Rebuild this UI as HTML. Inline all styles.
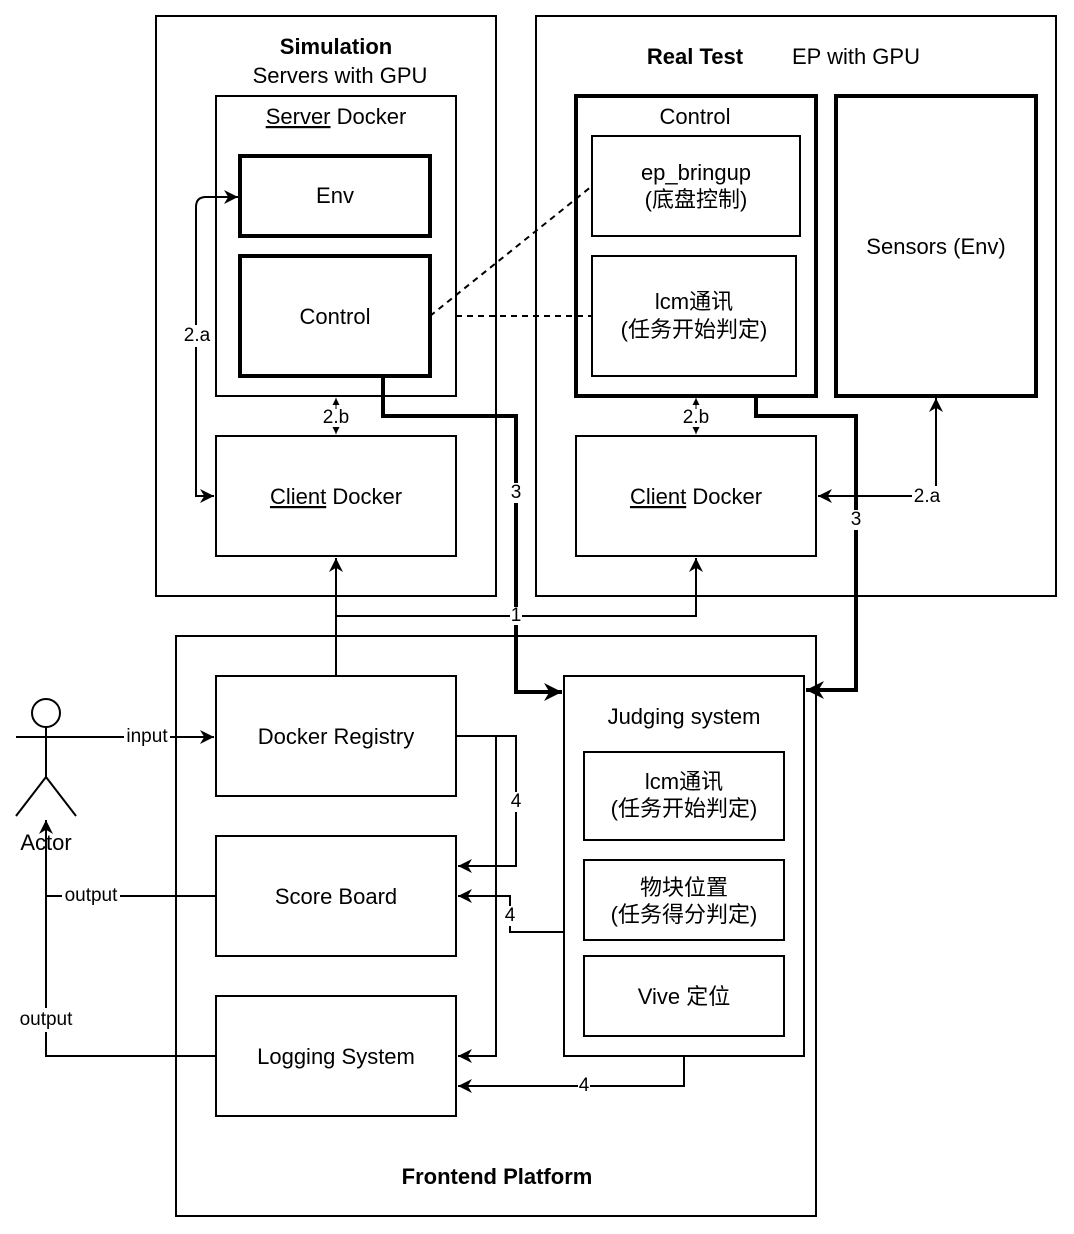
<!DOCTYPE html>
<html><head><style>html,body{margin:0;padding:0;background:#fff}svg{display:block}
text{font-family:"Liberation Sans","Noto Sans CJK SC",sans-serif;font-size:22px;fill:#000;text-anchor:middle;dominant-baseline:middle}
.b{font-weight:bold}.lbl{font-size:19px}</style></head><body>
<svg width="1074" height="1234" viewBox="0 0 1074 1234" xmlns="http://www.w3.org/2000/svg">
<defs>
<marker id="a" viewBox="0 0 10 10" refX="10" refY="5" markerWidth="16" markerHeight="14" markerUnits="userSpaceOnUse" orient="auto"><path d="M0,0 L10,5 L0,10 L3,5z" fill="#000"/></marker>
<marker id="ab" viewBox="0 0 10 10" refX="10" refY="5" markerWidth="20" markerHeight="18" markerUnits="userSpaceOnUse" orient="auto"><path d="M0,0 L10,5 L0,10 L3,5z" fill="#000"/></marker>
<marker id="as" viewBox="0 0 10 10" refX="10" refY="5" markerWidth="7" markerHeight="7" markerUnits="userSpaceOnUse" orient="auto"><path d="M0,0 L10,5 L0,10z" fill="#000"/></marker>
</defs>
<g fill="#fff" stroke="#000" stroke-width="2">
<rect x="156" y="16" width="340" height="580"/>
<rect x="536" y="16" width="520" height="580"/>
<rect x="176" y="636" width="640" height="580"/>
<rect x="216" y="96" width="240" height="300"/>
<rect x="216" y="436" width="240" height="120"/>
<rect x="576" y="436" width="240" height="120"/>
<rect x="216" y="676" width="240" height="120"/>
<rect x="216" y="836" width="240" height="120"/>
<rect x="216" y="996" width="240" height="120"/>
<rect x="564" y="676" width="240" height="380"/>
<rect x="584" y="752" width="200" height="88"/>
<rect x="584" y="860" width="200" height="80"/>
<rect x="584" y="956" width="200" height="80"/>
</g>
<g fill="#fff" stroke="#000" stroke-width="4">
<rect x="240" y="156" width="190" height="80"/>
<rect x="240" y="256" width="190" height="120"/>
<rect x="576" y="96" width="240" height="300"/>
<rect x="836" y="96" width="200" height="300"/>
</g>
<g fill="#fff" stroke="#000" stroke-width="2">
<rect x="592" y="136" width="208" height="100"/>
<rect x="592" y="256" width="204" height="120"/>
</g>
<g fill="none" stroke="#000" stroke-width="2">
<path d="M430,316 L592,186" stroke-dasharray="6,5"/>
<path d="M456,316 L592,316" stroke-dasharray="6,5"/>
<path d="M204,496 L196,496 L196,207 Q196,197 206,197 L238,197" marker-end="url(#a)"/>
<path d="M196,480 L196,496 L214,496" marker-end="url(#a)"/>
<path d="M336,416 L336,398" stroke-width="1" marker-end="url(#as)"/>
<path d="M336,416 L336,434" stroke-width="1" marker-end="url(#as)"/>
<path d="M696,416 L696,398" stroke-width="1" marker-end="url(#as)"/>
<path d="M696,416 L696,434" stroke-width="1" marker-end="url(#as)"/>
<path d="M936,496 L818,496" marker-end="url(#a)"/>
<path d="M936,496 L936,398" marker-end="url(#a)"/>
<path d="M383,376 L383,416 L516,416 L516,692 L562,692" stroke-width="4" marker-end="url(#ab)"/>
<path d="M756,396 L756,416 L856,416 L856,690 L806,690" stroke-width="4" marker-end="url(#ab)"/>
<path d="M336,676 L336,558" marker-end="url(#a)"/>
<path d="M336,616 L696,616 L696,558" marker-end="url(#a)"/>
<path d="M76,737 L214,737" marker-end="url(#a)"/>
<path d="M216,896 L46,896"/>
<path d="M216,1056 L46,1056 L46,820" marker-end="url(#a)"/>
<path d="M456,736 L516,736 L516,866 L458,866" marker-end="url(#a)"/>
<path d="M496,736 L496,1056 L458,1056" marker-end="url(#a)"/>
<path d="M564,932 L510,932 L510,896 L458,896" marker-end="url(#a)"/>
<path d="M684,1056 L684,1086 L458,1086" marker-end="url(#a)"/>
<circle cx="46" cy="713" r="14" fill="#fff"/>
<path d="M46,727 L46,777 M16,737 L76,737 M46,777 L16,816 M46,777 L76,816"/>
</g>
<g>
<text x="336" y="48" class="b">Simulation</text>
<text x="340" y="77">Servers with GPU</text>
<text x="336" y="118"><tspan text-decoration="underline">Server</tspan> Docker</text>
<text x="335" y="197">Env</text>
<text x="335" y="318">Control</text>
<text x="336" y="498"><tspan text-decoration="underline">Client</tspan> Docker</text>
<text x="695" y="58" class="b">Real Test</text>
<text x="856" y="58">EP with GPU</text>
<text x="695" y="118">Control</text>
<text x="696" y="174">ep_bringup</text>
<text x="696" y="201">(底盘控制)</text>
<text x="694" y="303">lcm通讯</text>
<text x="694" y="331">(任务开始判定)</text>
<text x="936" y="248">Sensors (Env)</text>
<text x="696" y="498"><tspan text-decoration="underline">Client</tspan> Docker</text>
<text x="336" y="738">Docker Registry</text>
<text x="336" y="898">Score Board</text>
<text x="336" y="1058">Logging System</text>
<text x="684" y="718">Judging system</text>
<text x="684" y="783">lcm通讯</text>
<text x="684" y="810">(任务开始判定)</text>
<text x="684" y="889">物块位置</text>
<text x="684" y="916">(任务得分判定)</text>
<text x="684" y="998">Vive 定位</text>
<text x="497" y="1178" class="b">Frontend Platform</text>
<text x="46" y="844">Actor</text>
</g>
<g class="lbl">
<rect x="182" y="325" width="30" height="22" fill="#fff"/><text x="197" y="336" class="lbl">2.a</text>
<rect x="322" y="409" width="30" height="18" fill="#fff"/><text x="336" y="418" class="lbl">2.b</text>
<rect x="682" y="409" width="30" height="18" fill="#fff"/><text x="696" y="418" class="lbl">2.b</text>
<rect x="912" y="486" width="30" height="22" fill="#fff"/><text x="927" y="497" class="lbl">2.a</text>
<rect x="510" y="483" width="12" height="20" fill="#fff"/><text x="516" y="493" class="lbl">3</text>
<rect x="850" y="510" width="12" height="20" fill="#fff"/><text x="856" y="520" class="lbl">3</text>
<rect x="510" y="607" width="12" height="18" fill="#fff"/><text x="516" y="616" class="lbl">1</text>
<rect x="124" y="727" width="46" height="20" fill="#fff"/><text x="147" y="737" class="lbl">input</text>
<rect x="62" y="886" width="58" height="20" fill="#fff"/><text x="91" y="896" class="lbl">output</text>
<rect x="16" y="1008" width="60" height="24" fill="#fff"/><text x="46" y="1020" class="lbl">output</text>
<rect x="510" y="792" width="12" height="20" fill="#fff"/><text x="516" y="802" class="lbl">4</text>
<rect x="504" y="906" width="12" height="20" fill="#fff"/><text x="510" y="916" class="lbl">4</text>
<rect x="578" y="1076" width="12" height="20" fill="#fff"/><text x="584" y="1086" class="lbl">4</text>
</g>
</svg>
</body></html>
